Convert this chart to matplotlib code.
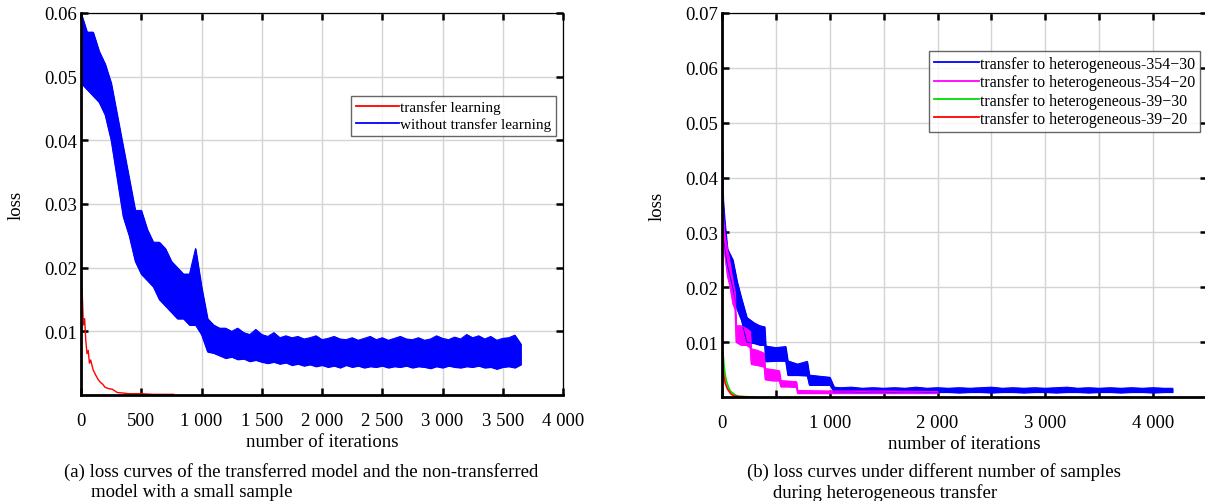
import numpy as np
import matplotlib
matplotlib.use("Agg")
import matplotlib.pyplot as plt
from matplotlib.lines import Line2D
from matplotlib.ticker import MultipleLocator, FuncFormatter

plt.rcParams['font.family'] = ['Liberation Serif', 'DejaVu Serif']
plt.rcParams['font.size'] = 13.5
plt.rcParams['axes.unicode_minus'] = True

# ---------- data, panel (a) ----------
# band of the noisy "without transfer learning" curve, read every 50 iterations
a_blue_x = np.arange(0, 3651, 50)
a_blue_hi = [0.060, 0.057, 0.057, 0.054, 0.052, 0.049, 0.044, 0.039, 0.034, 0.029,
             0.029, 0.026, 0.024, 0.024, 0.023, 0.021, 0.020, 0.019, 0.019, 0.023,
             0.017, 0.012, 0.011, 0.0105, 0.0105, 0.010, 0.0105, 0.0098, 0.0095, 0.0103,
             0.0095, 0.0092, 0.0098, 0.0090, 0.0093, 0.0090, 0.0092, 0.0088, 0.0090, 0.0093,
             0.0087, 0.0089, 0.0092, 0.0088, 0.0087, 0.0090, 0.0086, 0.0089, 0.0092, 0.0087,
             0.0090, 0.0086, 0.0089, 0.0092, 0.0088, 0.0087, 0.0090, 0.0086, 0.0088, 0.0093,
             0.0089, 0.0087, 0.0091, 0.0088, 0.0095, 0.0090, 0.0093, 0.0088, 0.0092, 0.0086,
             0.0089, 0.0090, 0.0094, 0.0080]
a_blue_lo = [0.049, 0.048, 0.047, 0.046, 0.044, 0.040, 0.034, 0.028, 0.025, 0.021,
             0.019, 0.018, 0.017, 0.015, 0.014, 0.013, 0.012, 0.012, 0.011, 0.011,
             0.0095, 0.0068, 0.0066, 0.0062, 0.0058, 0.0060, 0.0056, 0.0057, 0.0053, 0.0055,
             0.0052, 0.0050, 0.0052, 0.0049, 0.0051, 0.0047, 0.0049, 0.0046, 0.0048, 0.0045,
             0.0047, 0.0044, 0.0046, 0.0043, 0.0047, 0.0044, 0.0046, 0.0043, 0.0045, 0.0044,
             0.0046, 0.0043, 0.0045, 0.0044, 0.0046, 0.0043, 0.0045, 0.0044, 0.0042, 0.0045,
             0.0043, 0.0046, 0.0044, 0.0043, 0.0045, 0.0044, 0.0046, 0.0043, 0.0044, 0.0041,
             0.0044, 0.0045, 0.0043, 0.0048]

a_red_x = [0, 10, 20, 30, 40, 50, 60, 70, 80, 100, 120, 140, 160, 180, 200, 230, 260,
           300, 350, 400, 500, 600, 700, 770]
a_red_y = [0.0185, 0.016, 0.011, 0.012, 0.0085, 0.0065, 0.007, 0.005, 0.0055, 0.0040,
           0.0032, 0.0025, 0.0020, 0.0017, 0.0012, 0.0010, 0.0009, 0.0004, 0.0003, 0.0002,
           0.0002, 0.0001, 0.0001, 0.0001]

# ---------- data, panel (b) ----------
flat_x = list(range(1100, 4101, 100)) + [4180]
b_blue_x = [0, 10, 25, 50, 75, 100, 140, 180, 230, 300, 350, 395, 405, 500, 590, 610,
            700, 790, 810, 900, 1000, 1040] + flat_x
b_blue_hi = [0.046, 0.036, 0.032, 0.027, 0.026, 0.025, 0.021, 0.018, 0.0145, 0.0135,
             0.0130, 0.0128, 0.0093, 0.0090, 0.0092, 0.0066, 0.0060, 0.0065, 0.0040, 0.0038,
             0.0036, 0.0018,
             0.0017, 0.0018, 0.0016, 0.0017, 0.0016, 0.0017, 0.0016, 0.0018, 0.0016, 0.0017,
             0.0016, 0.0017, 0.0016, 0.0017, 0.0018, 0.0016, 0.0017, 0.0016, 0.0017, 0.0016,
             0.0017, 0.0018, 0.0016, 0.0017, 0.0016, 0.0017, 0.0016, 0.0017, 0.0016, 0.0017,
             0.0016, 0.0016]
b_blue_lo = [0.031, 0.029, 0.027, 0.024, 0.022, 0.020, 0.016, 0.014, 0.0100, 0.0098,
             0.0095, 0.0095, 0.0065, 0.0066, 0.0066, 0.0040, 0.0040, 0.0039, 0.0022, 0.0022,
             0.0022, 0.0009,
             0.0009, 0.0009, 0.0008, 0.0009, 0.0009, 0.0008, 0.0009, 0.0009, 0.0008, 0.0009,
             0.0009, 0.0008, 0.0009, 0.0009, 0.0008, 0.0009, 0.0009, 0.0008, 0.0009, 0.0009,
             0.0008, 0.0009, 0.0009, 0.0008, 0.0009, 0.0009, 0.0008, 0.0009, 0.0009, 0.0008,
             0.0009, 0.0009]

b_mag_x = [0, 10, 25, 50, 75, 100, 120, 130, 175, 225, 260, 270, 330, 390, 400, 470,
           530, 545, 620, 690, 700, 1000, 1500, 2000]
b_mag_hi = [0.047, 0.034, 0.030, 0.027, 0.024, 0.021, 0.019, 0.013, 0.013, 0.0125,
            0.0120, 0.0088, 0.0085, 0.0080, 0.0052, 0.0050, 0.0048, 0.0030, 0.0029, 0.0028,
            0.0012, 0.0011, 0.0011, 0.0010]
b_mag_lo = [0.040, 0.029, 0.026, 0.022, 0.020, 0.017, 0.016, 0.010, 0.0095, 0.0095,
            0.0090, 0.0060, 0.0058, 0.0055, 0.0032, 0.0030, 0.0030, 0.0019, 0.0019, 0.0018,
            0.0007, 0.0007, 0.0007, 0.0007]

b_green_x = [0, 10, 20, 30, 40, 60, 80, 100, 130, 160, 300]
b_green_y = [0.0095, 0.008, 0.0055, 0.004, 0.003, 0.0018, 0.0010, 0.0007, 0.0003, 0.0001, 0.0]

b_red_x = [0, 10, 20, 30, 50, 80, 110, 150, 250]
b_red_y = [0.0105, 0.005, 0.0035, 0.0025, 0.0015, 0.0006, 0.0002, 0.0001, 0.0]

labels_a = ['transfer learning', 'without transfer learning']
labels_b = ['transfer to heterogeneous-354\u221230', 'transfer to heterogeneous-354\u221220',
            'transfer to heterogeneous-39\u221230', 'transfer to heterogeneous-39\u221220']
colors_a = ['#ff0000', '#0000ff']
colors_b = ['#0000ff', '#ff00ff', '#00dd00', '#ff0000']


def thousands(v, pos):
    return f'{int(v):,}'.replace(',', ' ')


def style_axes(ax):
    ax.grid(True, color='#d4d4d4', lw=1.0)
    ax.set_axisbelow(True)
    ax.tick_params(direction='in', top=True, right=True, width=1.8, length=5,
                   labelsize=13.5)
    ax.tick_params(axis='x', pad=12)
    ax.tick_params(axis='y', pad=3)
    for s in ['left', 'bottom']:
        ax.spines[s].set_linewidth(2.0)
    for s in ['top', 'right']:
        ax.spines[s].set_linewidth(0.9)


def legend_box(ax, colors, labels, anchor, size, spacing):
    handles = [Line2D([], [], color=c, lw=1.3) for c in colors]
    leg = ax.legend(handles, labels, loc='upper right', bbox_to_anchor=anchor,
                    fontsize=size, frameon=True, fancybox=False, edgecolor='#404040',
                    handlelength=2.8, handletextpad=0.1, labelspacing=spacing,
                    borderpad=0.3, borderaxespad=0.0)
    leg.get_frame().set_linewidth(1.0)
    return leg


fig = plt.figure(figsize=(12.05, 5.02), dpi=100)

# ---------- (a) ----------
ax1 = fig.add_axes([81 / 1205, 1 - 396 / 502, 482 / 1205, 382 / 502])
ax1.fill_between(a_blue_x, a_blue_lo, a_blue_hi, color='#0000ff', lw=0.8)
ax1.plot(a_blue_x, a_blue_hi, color='#0000ff', lw=0.7)
ax1.plot(a_blue_x, a_blue_lo, color='#0000ff', lw=0.7)
ax1.plot(a_red_x, a_red_y, color='#ff0000', lw=1.0)
ax1.set_xlim(0, 4000)
ax1.set_ylim(0, 0.06)
ax1.set_yticks([0.01, 0.02, 0.03, 0.04, 0.05, 0.06])
ax1.set_yticklabels(['0.01', '0.02', '0.03', '0.04', '0.05', '0.06'])
ax1.xaxis.set_major_locator(MultipleLocator(500))
ax1.xaxis.set_major_formatter(FuncFormatter(thousands))
style_axes(ax1)
ax1.set_xlabel('number of iterations', fontsize=13.5, labelpad=3)
ax1.set_ylabel('loss', fontsize=13.5, labelpad=14)
legend_box(ax1, colors_a, labels_a, (0.985, 0.783), 11, 0.2)

# ---------- (b) ----------
ax2 = fig.add_axes([722 / 1205, 1 - 398 / 502, 485 / 1205, 384 / 502])
ax2.fill_between(b_blue_x, b_blue_lo, b_blue_hi, color='#0000ff', lw=0.8)
ax2.plot(b_blue_x, b_blue_hi, color='#0000ff', lw=0.7)
ax2.plot(b_blue_x, b_blue_lo, color='#0000ff', lw=0.7)
ax2.fill_between(b_mag_x, b_mag_lo, b_mag_hi, color='#ff00ff', lw=0.8)
ax2.plot(b_mag_x, b_mag_hi, color='#ff00ff', lw=0.7)
ax2.plot(b_mag_x, b_mag_lo, color='#ff00ff', lw=0.7)
ax2.plot(b_green_x, b_green_y, color='#00dd00', lw=1.2)
ax2.plot(b_red_x, b_red_y, color='#ff0000', lw=1.2)
ax2.set_xlim(0, 4500)
ax2.set_ylim(0, 0.07)
ax2.set_yticks([0.01, 0.02, 0.03, 0.04, 0.05, 0.06, 0.07])
ax2.set_yticklabels(['0.01', '0.02', '0.03', '0.04', '0.05', '0.06', '0.07'])
ax2.xaxis.set_major_locator(MultipleLocator(500))
ax2.xaxis.set_major_formatter(FuncFormatter(
    lambda v, p: thousands(v, p) if v % 1000 == 0 else ''))
style_axes(ax2)
ax2.set_xlabel('number of iterations', fontsize=13.5, labelpad=3)
ax2.set_ylabel('loss', fontsize=13.5, labelpad=14)
legend_box(ax2, colors_b, labels_b, (0.986, 0.901), 11.5, 0.15)

# ---------- captions ----------
fig.text(64 / 1205, 1 - 472 / 502,
         '(a) loss curves of the transferred model and the non-transferred',
         fontsize=13.5, va='center', ha='left')
fig.text(91 / 1205, 1 - 493 / 502, 'model with a small sample',
         fontsize=13.5, va='center', ha='left')
fig.text(747 / 1205, 1 - 472 / 502,
         '(b) loss curves under different number of samples',
         fontsize=13.5, va='center', ha='left')
fig.text(773 / 1205, 1 - 493 / 502, 'during heterogeneous transfer',
         fontsize=13.5, va='center', ha='left')

fig.savefig('out.png', dpi=100)
